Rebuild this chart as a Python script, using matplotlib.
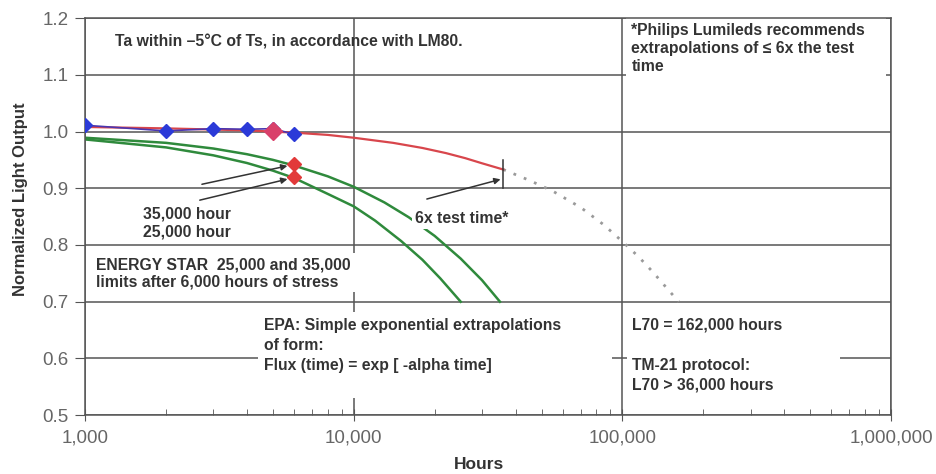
import matplotlib
matplotlib.use("Agg")
import matplotlib.pyplot as plt
from matplotlib.patches import Rectangle
from matplotlib.ticker import FixedLocator, NullFormatter, LogLocator

plt.rcParams['font.family'] = ['Liberation Sans', 'DejaVu Sans']

# measured LM80 points (blue) and highlighted points (red)
hours_meas = [1000, 2000, 3000, 4000, 5000, 6000]
lum_meas = [1.011, 1.001, 1.005, 1.004, 1.005, 0.995]
hours_red = [5000, 6000, 6000]
lum_red = [1.001, 0.942, 0.919]

hours_fit = [1000, 2000, 4000, 6000, 8000, 10000, 14000, 18000, 22000, 26000, 30000, 36000]
lum_fit = [1.008, 1.0055, 1.002, 0.998, 0.994, 0.989, 0.980, 0.971, 0.962, 0.953, 0.944, 0.933]
hours_ext = [36000, 45000, 55000, 70000, 85000, 100000, 115000, 130000, 145000, 162000]
lum_ext = [0.933, 0.914, 0.895, 0.866, 0.836, 0.806, 0.779, 0.752, 0.726, 0.700]

# ENERGY STAR limit curves (green)
hours_35k = [1000, 2000, 3000, 4000, 5000, 6000, 8000, 10000, 13000, 16000, 20000, 25000, 30000, 35000]
lum_35k = [0.989, 0.980, 0.970, 0.960, 0.950, 0.940, 0.921, 0.9025, 0.875, 0.849, 0.816, 0.776, 0.738, 0.700]
hours_25k = [1000, 2000, 3000, 4000, 5000, 6000, 7000, 8000, 10000, 12000, 15000, 18000, 21000, 25000]
lum_25k = [0.986, 0.972, 0.958, 0.9445, 0.931, 0.918, 0.903, 0.890, 0.868, 0.843, 0.807, 0.774, 0.741, 0.700]

yticks = [0.5, 0.6, 0.7, 0.8, 0.9, 1.0, 1.1, 1.2]
xticks = [1000, 10000, 100000, 1000000]
xlabels = ['1,000', '10,000', '100,000', '1,000,000']

txt = '#333333'
gridc = '#555555'

fig = plt.figure(figsize=(9.36, 4.74), dpi=100)
ax = fig.add_axes([0.091, 0.124, 0.861, 0.838])
ax.set_xscale('log')
ax.set_xlim(1000, 1000000)
ax.set_ylim(0.5, 1.2)

ax.grid(True, which='major', color=gridc, lw=1.1)
ax.set_axisbelow(True)
for s in ax.spines.values():
    s.set_color(gridc)
    s.set_linewidth(1.1)

ax.set_yticks(yticks)
ax.set_yticklabels(['%.1f' % v for v in yticks])
ax.xaxis.set_major_locator(FixedLocator(xticks))
ax.set_xticklabels(xlabels)
ax.xaxis.set_minor_locator(LogLocator(base=10, subs=range(2, 10)))
ax.xaxis.set_minor_formatter(NullFormatter())
ax.tick_params(axis='x', which='major', direction='inout', length=8, color=gridc, labelsize=13.5, labelcolor='#666666', pad=6)
ax.tick_params(axis='x', which='minor', direction='in', length=4, color=gridc)
ax.tick_params(axis='y', direction='out', length=7, color=gridc, labelsize=13.5, labelcolor='#666666', pad=5)

# white areas behind the text blocks (they hide the grid there)
for x0, y0, w, h in [(0.671, 0.814, 0.323, 0.186), (0.006, 0.310, 0.338, 0.098),
                     (0.215, 0.043, 0.439, 0.216), (0.672, 0.043, 0.265, 0.216)]:
    ax.add_patch(Rectangle((x0, y0), w, h, transform=ax.transAxes, facecolor='white',
                           edgecolor='none', zorder=1))

# curves
ax.plot(hours_ext, lum_ext, color='#9a9a9a', lw=2, ls=(0, (1, 3)), zorder=2)
ax.plot(hours_35k, lum_35k, color='#2f8a3c', lw=1.8, zorder=2)
ax.plot(hours_25k, lum_25k, color='#2f8a3c', lw=1.8, zorder=2)
ax.plot(hours_fit, lum_fit, color='#d8464c', lw=1.6, zorder=3)
ax.plot(hours_meas, lum_meas, color='#4a36b0', lw=1.2, zorder=3)
ax.plot(hours_meas, lum_meas, 'D', color='#2b3ad8', ms=7.5, zorder=4)
ax.plot(hours_red[:1], lum_red[:1], 'D', color='#d9406a', ms=9.5, zorder=5)
ax.plot(hours_red[1:], lum_red[1:], 'D', color='#e23a3a', ms=7, zorder=5)

# 6x test time marker
ax.plot([hours_fit[-1], hours_fit[-1]], [0.9, 0.95], color='#333333', lw=1.1, zorder=3)

arrow = dict(arrowstyle='-|>', color='#333333', lw=1.1, mutation_scale=9, shrinkA=0, shrinkB=5)
ax.annotate('', xy=(hours_red[1], lum_red[1]), xytext=(2720, 0.907), arrowprops=arrow)
ax.annotate('', xy=(hours_red[2], lum_red[2]), xytext=(2670, 0.879), arrowprops=arrow)
ax.annotate('', xy=(hours_fit[-1], 0.917), xytext=(18700, 0.881), arrowprops=dict(arrow, shrinkB=2))

fs = 11.3
ax.text(1290, 1.158, 'Ta within \u20135\u00b0C of Ts, in accordance with LM80.', fontsize=fs,
        fontweight='bold', color=txt, va='center', zorder=3)
ax.text(108000, 1.146, '*Philips Lumileds recommends\nextrapolations of \u2264 6x the test\ntime',
        fontsize=fs, fontweight='bold', color=txt, va='center', linespacing=1.25, zorder=3)
ax.text(1640, 0.839, '35,000 hour\n25,000 hour', fontsize=fs, fontweight='bold', color=txt,
        va='center', linespacing=1.28)
ax.text(1099, 0.750, 'ENERGY STAR  25,000 and 35,000\nlimits after 6,000 hours of stress', fontsize=fs,
        fontweight='bold', color=txt, va='center', linespacing=1.2, zorder=3)
ax.text(16900, 0.847, '6x test time*', fontsize=fs, fontweight='bold', color=txt, va='center',
        bbox=dict(facecolor='white', edgecolor='none', boxstyle='square,pad=0.2'), zorder=3)
ax.text(4630, 0.623, 'EPA: Simple exponential extrapolations\nof form:\nFlux (time) = exp [ -alpha time]',
        fontsize=fs, fontweight='bold', color=txt, va='center', linespacing=1.43, zorder=3)
ax.text(109000, 0.606, 'L70 = 162,000 hours\n\nTM-21 protocol:\nL70 > 36,000 hours',
        fontsize=fs, fontweight='bold', color=txt, va='center', linespacing=1.43, zorder=3)

ax.set_ylabel('Normalized Light Output', fontsize=12, fontweight='bold', color=txt)
ax.yaxis.set_label_coords(-0.071, 0.544)
ax.set_xlabel('Hours', fontsize=12.5, fontweight='bold', color=txt)
ax.xaxis.set_label_coords(0.489, -0.104)

fig.savefig('out.png', dpi=100)
